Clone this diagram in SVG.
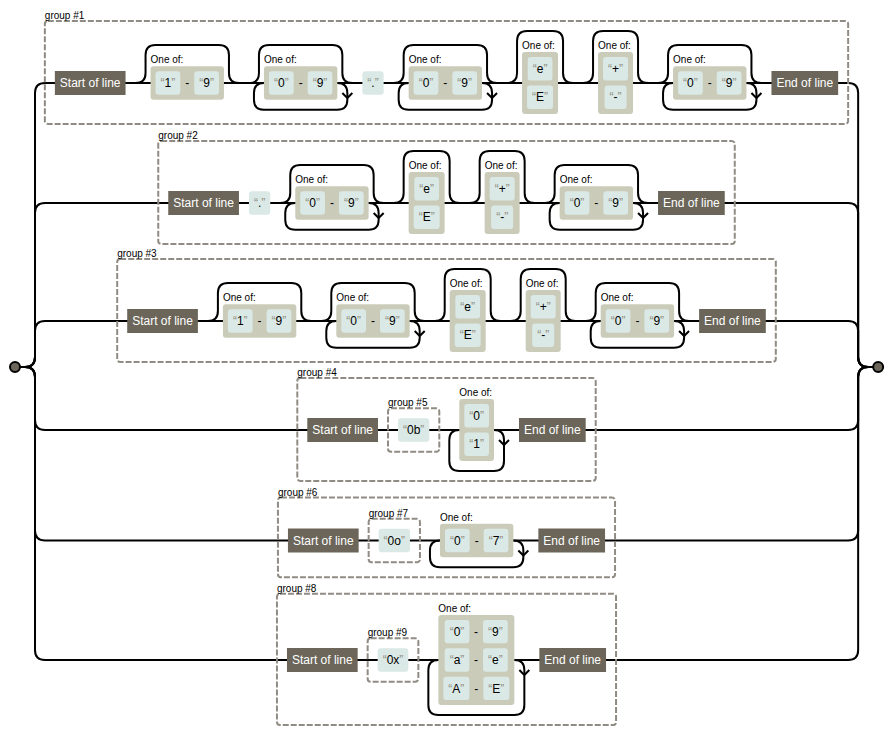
<svg xmlns="http://www.w3.org/2000/svg" width="893" height="734" viewBox="0 0 893 734">
<style>
  text { font-family: "Liberation Sans", Arial, sans-serif; font-size: 12px; fill: #000; }
  .sm { font-size: 10px; }
  .m { text-anchor: middle; }
  .q { fill: #908c83; }
  .an rect { fill: #6b6659; }
  .an text { fill: #fff; text-anchor: middle; }
  .lt { fill: #dae9e5; }
  .cb { fill: #cbcbba; }
  .gb { fill: none; stroke: #908c83; stroke-width: 2; stroke-dasharray: 6,2; }
  #connectors path { fill: none; stroke: #000; stroke-width: 2; }
  circle { fill: #6b6659; stroke: #000; stroke-width: 2; }
</style>
<rect x="0" y="0" width="893" height="734" fill="#fff"/>

<!-- connectors: alternation rails, skip and loop paths -->
<g id="connectors">
  <path d="M15,367H25M868.15,367H878.15"/>
  <!-- branch rails -->
  <path d="M25,367q10,0 10,-10V93q0,-10 10,-10H848.15q10,0 10,10V357q0,10 10,10"/>
  <path d="M25,367q10,0 10,-10V213q0,-10 10,-10H848.15q10,0 10,10V357q0,10 10,10"/>
  <path d="M25,367q10,0 10,-10V331q0,-10 10,-10H848.15q10,0 10,10V357q0,10 10,10"/>
  <path d="M25,367q10,0 10,10V420q0,10 10,10H848.15q10,0 10,-10V377q0,-10 10,-10"/>
  <path d="M25,367q10,0 10,10V530.5q0,10 10,10H848.15q10,0 10,-10V377q0,-10 10,-10"/>
  <path d="M25,367q10,0 10,10V650q0,10 10,10H848.15q10,0 10,-10V377q0,-10 10,-10"/>
  <!-- branch 1 -->
  <path d="M135.55,83q10,0 10,-10V55.1q0,-10 10,-10H218.95q10,0 10,10V73q0,10 10,10"/>
  <path d="M248.95,83q10,0 10,-10V55.1q0,-10 10,-10H332.35q10,0 10,10V73q0,10 10,10"/>
  <path d="M263.95,83q-10,0 -10,10V99.7q0,10 10,10H337.35q10,0 10,-10V93q0,-10 -10,-10"/>
  <path d="M347.35,98l5,-5m-5,5l-5,-5"/>
  <path d="M393.65,83q10,0 10,-10V55.1q0,-10 10,-10H477.05q10,0 10,10V73q0,10 10,10"/>
  <path d="M408.65,83q-10,0 -10,10V99.7q0,10 10,10H482.05q10,0 10,-10V93q0,-10 -10,-10"/>
  <path d="M492.05,98l5,-5m-5,5l-5,-5"/>
  <path d="M507.05,83q10,0 10,-10V40.9q0,-10 10,-10H553.05q10,0 10,10V73q0,10 10,10"/>
  <path d="M583.05,83q10,0 10,-10V40.9q0,-10 10,-10H628.05q10,0 10,10V73q0,10 10,10"/>
  <path d="M658.05,83q10,0 10,-10V55.1q0,-10 10,-10H741.45q10,0 10,10V73q0,10 10,10"/>
  <path d="M673.05,83q-10,0 -10,10V99.7q0,10 10,10H746.45q10,0 10,-10V93q0,-10 -10,-10"/>
  <path d="M756.45,98l5,-5m-5,5l-5,-5"/>
  <!-- branch 2 -->
  <path d="M280.25,203q10,0 10,-10V175.1q0,-10 10,-10H363.65q10,0 10,10V193q0,10 10,10"/>
  <path d="M295.25,203q-10,0 -10,10V219.7q0,10 10,10H368.65q10,0 10,-10V213q0,-10 -10,-10"/>
  <path d="M378.65,218l5,-5m-5,5l-5,-5"/>
  <path d="M393.65,203q10,0 10,-10V160.9q0,-10 10,-10H439.65q10,0 10,10V193q0,10 10,10"/>
  <path d="M469.65,203q10,0 10,-10V160.9q0,-10 10,-10H514.65q10,0 10,10V193q0,10 10,10"/>
  <path d="M544.65,203q10,0 10,-10V175.1q0,-10 10,-10H628.05q10,0 10,10V193q0,10 10,10"/>
  <path d="M559.65,203q-10,0 -10,10V219.7q0,10 10,10H633.05q10,0 10,-10V213q0,-10 -10,-10"/>
  <path d="M643.05,218l5,-5m-5,5l-5,-5"/>
  <!-- branch 3 -->
  <path d="M207.9,321q10,0 10,-10V293.1q0,-10 10,-10H291.3q10,0 10,10V311q0,10 10,10"/>
  <path d="M321.3,321q10,0 10,-10V293.1q0,-10 10,-10H404.7q10,0 10,10V311q0,10 10,10"/>
  <path d="M336.3,321q-10,0 -10,10V337.7q0,10 10,10H409.7q10,0 10,-10V331q0,-10 -10,-10"/>
  <path d="M419.7,336l5,-5m-5,5l-5,-5"/>
  <path d="M434.7,321q10,0 10,-10V278.9q0,-10 10,-10H480.7q10,0 10,10V311q0,10 10,10"/>
  <path d="M510.7,321q10,0 10,-10V278.9q0,-10 10,-10H555.7q10,0 10,10V311q0,10 10,10"/>
  <path d="M585.7,321q10,0 10,-10V293.1q0,-10 10,-10H669.1q10,0 10,10V311q0,10 10,10"/>
  <path d="M600.7,321q-10,0 -10,10V337.7q0,10 10,10H674.1q10,0 10,-10V331q0,-10 -10,-10"/>
  <path d="M684.1,336l5,-5m-5,5l-5,-5"/>
  <!-- branch 4 -->
  <path d="M459.3,430q-10,0 -10,10V460.9q0,10 10,10H494q10,0 10,-10V440q0,-10 -10,-10"/>
  <path d="M504,445l5,-5m-5,5l-5,-5"/>
  <!-- branch 5 -->
  <path d="M439.95,540.5q-10,0 -10,10V557.2q0,10 10,10H513.35q10,0 10,-10V550.5q0,-10 -10,-10"/>
  <path d="M523.35,555.5l5,-5m-5,5l-5,-5"/>
  <!-- branch 6 -->
  <path d="M438.35,660q-10,0 -10,10V705.1q0,10 10,10H514.35q10,0 10,-10V670q0,-10 -10,-10"/>
  <path d="M524.35,675l5,-5m-5,5l-5,-5"/>
</g>

<circle id="begin" cx="15" cy="367" r="5"/>
<circle id="finish" cx="878.15" cy="367" r="5"/>

<!-- ===== group #1 ===== -->
<g id="group1">
  <rect class="gb" x="44.85" y="20.9" width="803.3" height="103" rx="3"/>
  <text class="sm" x="44.85" y="18.9">group #1</text>
</g>
<g id="g1-start" class="an"><rect x="54.85" y="71" width="70.7" height="24"/><text x="90.2" y="87.2">Start of line</text></g>
<g id="g1-set1">
  <text class="sm" x="150.55" y="63.3">One of:</text>
  <rect class="cb" x="150.55" y="66.3" width="73.4" height="33.4" rx="3"/>
  <rect class="lt" x="155.55" y="71.3" width="24.7" height="23.4" rx="3"/><text class="m" x="167.9" y="87.2"><tspan class="q">“</tspan>1<tspan class="q">”</tspan></text>
  <text class="m" x="187.25" y="87.2">-</text>
  <rect class="lt" x="194.25" y="71.3" width="24.7" height="23.4" rx="3"/><text class="m" x="206.6" y="87.2"><tspan class="q">“</tspan>9<tspan class="q">”</tspan></text>
</g>
<g id="g1-set2">
  <text class="sm" x="263.95" y="63.3">One of:</text>
  <rect class="cb" x="263.95" y="66.3" width="73.4" height="33.4" rx="3"/>
  <rect class="lt" x="268.95" y="71.3" width="24.7" height="23.4" rx="3"/><text class="m" x="281.3" y="87.2"><tspan class="q">“</tspan>0<tspan class="q">”</tspan></text>
  <text class="m" x="300.65" y="87.2">-</text>
  <rect class="lt" x="307.65" y="71.3" width="24.7" height="23.4" rx="3"/><text class="m" x="320" y="87.2"><tspan class="q">“</tspan>9<tspan class="q">”</tspan></text>
</g>
<g id="g1-dot">
  <rect class="lt" x="362.35" y="71.3" width="21.3" height="23.4" rx="3"/><text class="m" x="373" y="87.2"><tspan class="q">“</tspan>.<tspan class="q">”</tspan></text>
</g>
<g id="g1-set3">
  <text class="sm" x="408.65" y="63.3">One of:</text>
  <rect class="cb" x="408.65" y="66.3" width="73.4" height="33.4" rx="3"/>
  <rect class="lt" x="413.65" y="71.3" width="24.7" height="23.4" rx="3"/><text class="m" x="426" y="87.2"><tspan class="q">“</tspan>0<tspan class="q">”</tspan></text>
  <text class="m" x="445.35" y="87.2">-</text>
  <rect class="lt" x="452.35" y="71.3" width="24.7" height="23.4" rx="3"/><text class="m" x="464.7" y="87.2"><tspan class="q">“</tspan>9<tspan class="q">”</tspan></text>
</g>
<g id="g1-exp">
  <text class="sm" x="522.05" y="49.1">One of:</text>
  <rect class="cb" x="522.05" y="52.1" width="36" height="61.8" rx="3"/>
  <rect class="lt" x="527.7" y="57.1" width="24.7" height="23.4" rx="3"/><text class="m" x="540.05" y="73"><tspan class="q">“</tspan>e<tspan class="q">”</tspan></text>
  <rect class="lt" x="527.05" y="85.5" width="26" height="23.4" rx="3"/><text class="m" x="540.05" y="101.4"><tspan class="q">“</tspan>E<tspan class="q">”</tspan></text>
</g>
<g id="g1-sign">
  <text class="sm" x="598.05" y="49.1">One of:</text>
  <rect class="cb" x="598.05" y="52.1" width="35" height="61.8" rx="3"/>
  <rect class="lt" x="603.05" y="57.1" width="25" height="23.4" rx="3"/><text class="m" x="615.55" y="73"><tspan class="q">“</tspan>+<tspan class="q">”</tspan></text>
  <rect class="lt" x="604.55" y="85.5" width="22" height="23.4" rx="3"/><text class="m" x="615.55" y="101.4"><tspan class="q">“</tspan>-<tspan class="q">”</tspan></text>
</g>
<g id="g1-set4">
  <text class="sm" x="673.05" y="63.3">One of:</text>
  <rect class="cb" x="673.05" y="66.3" width="73.4" height="33.4" rx="3"/>
  <rect class="lt" x="678.05" y="71.3" width="24.7" height="23.4" rx="3"/><text class="m" x="690.4" y="87.2"><tspan class="q">“</tspan>0<tspan class="q">”</tspan></text>
  <text class="m" x="709.75" y="87.2">-</text>
  <rect class="lt" x="716.75" y="71.3" width="24.7" height="23.4" rx="3"/><text class="m" x="729.1" y="87.2"><tspan class="q">“</tspan>9<tspan class="q">”</tspan></text>
</g>
<g id="g1-end" class="an"><rect x="771.45" y="71" width="66.7" height="24"/><text x="804.8" y="87.2">End of line</text></g>

<!-- ===== group #2 ===== -->
<g id="group2">
  <rect class="gb" x="158.25" y="140.9" width="576.5" height="103" rx="3"/>
  <text class="sm" x="158.25" y="138.9">group #2</text>
</g>
<g id="g2-start" class="an"><rect x="168.25" y="191" width="70.7" height="24"/><text x="203.6" y="207.2">Start of line</text></g>
<g id="g2-dot">
  <rect class="lt" x="248.95" y="191.3" width="21.3" height="23.4" rx="3"/><text class="m" x="259.6" y="207.2"><tspan class="q">“</tspan>.<tspan class="q">”</tspan></text>
</g>
<g id="g2-set1">
  <text class="sm" x="295.25" y="183.3">One of:</text>
  <rect class="cb" x="295.25" y="186.3" width="73.4" height="33.4" rx="3"/>
  <rect class="lt" x="300.25" y="191.3" width="24.7" height="23.4" rx="3"/><text class="m" x="312.6" y="207.2"><tspan class="q">“</tspan>0<tspan class="q">”</tspan></text>
  <text class="m" x="331.95" y="207.2">-</text>
  <rect class="lt" x="338.95" y="191.3" width="24.7" height="23.4" rx="3"/><text class="m" x="351.3" y="207.2"><tspan class="q">“</tspan>9<tspan class="q">”</tspan></text>
</g>
<g id="g2-exp">
  <text class="sm" x="408.65" y="169.1">One of:</text>
  <rect class="cb" x="408.65" y="172.1" width="36" height="61.8" rx="3"/>
  <rect class="lt" x="414.3" y="177.1" width="24.7" height="23.4" rx="3"/><text class="m" x="426.65" y="193"><tspan class="q">“</tspan>e<tspan class="q">”</tspan></text>
  <rect class="lt" x="413.65" y="205.5" width="26" height="23.4" rx="3"/><text class="m" x="426.65" y="221.4"><tspan class="q">“</tspan>E<tspan class="q">”</tspan></text>
</g>
<g id="g2-sign">
  <text class="sm" x="484.65" y="169.1">One of:</text>
  <rect class="cb" x="484.65" y="172.1" width="35" height="61.8" rx="3"/>
  <rect class="lt" x="489.65" y="177.1" width="25" height="23.4" rx="3"/><text class="m" x="502.15" y="193"><tspan class="q">“</tspan>+<tspan class="q">”</tspan></text>
  <rect class="lt" x="491.15" y="205.5" width="22" height="23.4" rx="3"/><text class="m" x="502.15" y="221.4"><tspan class="q">“</tspan>-<tspan class="q">”</tspan></text>
</g>
<g id="g2-set2">
  <text class="sm" x="559.65" y="183.3">One of:</text>
  <rect class="cb" x="559.65" y="186.3" width="73.4" height="33.4" rx="3"/>
  <rect class="lt" x="564.65" y="191.3" width="24.7" height="23.4" rx="3"/><text class="m" x="577" y="207.2"><tspan class="q">“</tspan>0<tspan class="q">”</tspan></text>
  <text class="m" x="596.35" y="207.2">-</text>
  <rect class="lt" x="603.35" y="191.3" width="24.7" height="23.4" rx="3"/><text class="m" x="615.7" y="207.2"><tspan class="q">“</tspan>9<tspan class="q">”</tspan></text>
</g>
<g id="g2-end" class="an"><rect x="658.05" y="191" width="66.7" height="24"/><text x="691.4" y="207.2">End of line</text></g>

<!-- ===== group #3 ===== -->
<g id="group3">
  <rect class="gb" x="117.2" y="258.9" width="658.6" height="103" rx="3"/>
  <text class="sm" x="117.2" y="256.9">group #3</text>
</g>
<g id="g3-start" class="an"><rect x="127.2" y="309" width="70.7" height="24"/><text x="162.55" y="325.2">Start of line</text></g>
<g id="g3-set1">
  <text class="sm" x="222.9" y="301.3">One of:</text>
  <rect class="cb" x="222.9" y="304.3" width="73.4" height="33.4" rx="3"/>
  <rect class="lt" x="227.9" y="309.3" width="24.7" height="23.4" rx="3"/><text class="m" x="240.25" y="325.2"><tspan class="q">“</tspan>1<tspan class="q">”</tspan></text>
  <text class="m" x="259.6" y="325.2">-</text>
  <rect class="lt" x="266.6" y="309.3" width="24.7" height="23.4" rx="3"/><text class="m" x="278.95" y="325.2"><tspan class="q">“</tspan>9<tspan class="q">”</tspan></text>
</g>
<g id="g3-set2">
  <text class="sm" x="336.3" y="301.3">One of:</text>
  <rect class="cb" x="336.3" y="304.3" width="73.4" height="33.4" rx="3"/>
  <rect class="lt" x="341.3" y="309.3" width="24.7" height="23.4" rx="3"/><text class="m" x="353.65" y="325.2"><tspan class="q">“</tspan>0<tspan class="q">”</tspan></text>
  <text class="m" x="373" y="325.2">-</text>
  <rect class="lt" x="380" y="309.3" width="24.7" height="23.4" rx="3"/><text class="m" x="392.35" y="325.2"><tspan class="q">“</tspan>9<tspan class="q">”</tspan></text>
</g>
<g id="g3-exp">
  <text class="sm" x="449.7" y="287.1">One of:</text>
  <rect class="cb" x="449.7" y="290.1" width="36" height="61.8" rx="3"/>
  <rect class="lt" x="455.35" y="295.1" width="24.7" height="23.4" rx="3"/><text class="m" x="467.7" y="311"><tspan class="q">“</tspan>e<tspan class="q">”</tspan></text>
  <rect class="lt" x="454.7" y="323.5" width="26" height="23.4" rx="3"/><text class="m" x="467.7" y="339.4"><tspan class="q">“</tspan>E<tspan class="q">”</tspan></text>
</g>
<g id="g3-sign">
  <text class="sm" x="525.7" y="287.1">One of:</text>
  <rect class="cb" x="525.7" y="290.1" width="35" height="61.8" rx="3"/>
  <rect class="lt" x="530.7" y="295.1" width="25" height="23.4" rx="3"/><text class="m" x="543.2" y="311"><tspan class="q">“</tspan>+<tspan class="q">”</tspan></text>
  <rect class="lt" x="532.2" y="323.5" width="22" height="23.4" rx="3"/><text class="m" x="543.2" y="339.4"><tspan class="q">“</tspan>-<tspan class="q">”</tspan></text>
</g>
<g id="g3-set3">
  <text class="sm" x="600.7" y="301.3">One of:</text>
  <rect class="cb" x="600.7" y="304.3" width="73.4" height="33.4" rx="3"/>
  <rect class="lt" x="605.7" y="309.3" width="24.7" height="23.4" rx="3"/><text class="m" x="618.05" y="325.2"><tspan class="q">“</tspan>0<tspan class="q">”</tspan></text>
  <text class="m" x="637.4" y="325.2">-</text>
  <rect class="lt" x="644.4" y="309.3" width="24.7" height="23.4" rx="3"/><text class="m" x="656.75" y="325.2"><tspan class="q">“</tspan>9<tspan class="q">”</tspan></text>
</g>
<g id="g3-end" class="an"><rect x="699.1" y="309" width="66.7" height="24"/><text x="732.45" y="325.2">End of line</text></g>

<!-- ===== group #4 ===== -->
<g id="group4">
  <rect class="gb" x="297.3" y="377.9" width="298.4" height="103" rx="3"/>
  <text class="sm" x="297.3" y="375.9">group #4</text>
</g>
<g id="g4-start" class="an"><rect x="307.3" y="418" width="70.7" height="24"/><text x="342.65" y="434.2">Start of line</text></g>
<g id="group5">
  <rect class="gb" x="388" y="408.3" width="51.3" height="43.4" rx="3"/>
  <text class="sm" x="388" y="406.3">group #5</text>
  <rect class="lt" x="398" y="418.3" width="31.3" height="23.4" rx="3"/><text class="m" x="413.65" y="434.2"><tspan class="q">“</tspan>0b<tspan class="q">”</tspan></text>
</g>
<g id="g4-bin">
  <text class="sm" x="459.3" y="396.1">One of:</text>
  <rect class="cb" x="459.3" y="399.1" width="34.7" height="61.8" rx="3"/>
  <rect class="lt" x="464.3" y="404.1" width="24.7" height="23.4" rx="3"/><text class="m" x="476.65" y="420"><tspan class="q">“</tspan>0<tspan class="q">”</tspan></text>
  <rect class="lt" x="464.3" y="432.5" width="24.7" height="23.4" rx="3"/><text class="m" x="476.65" y="448.4"><tspan class="q">“</tspan>1<tspan class="q">”</tspan></text>
</g>
<g id="g4-end" class="an"><rect x="519" y="418" width="66.7" height="24"/><text x="552.35" y="434.2">End of line</text></g>

<!-- ===== group #6 ===== -->
<g id="group6">
  <rect class="gb" x="277.95" y="497.6" width="337.1" height="79.6" rx="3"/>
  <text class="sm" x="277.95" y="495.6">group #6</text>
</g>
<g id="g6-start" class="an"><rect x="287.95" y="528.5" width="70.7" height="24"/><text x="323.3" y="544.7">Start of line</text></g>
<g id="group7">
  <rect class="gb" x="368.65" y="518.8" width="51.3" height="43.4" rx="3"/>
  <text class="sm" x="368.65" y="516.8">group #7</text>
  <rect class="lt" x="378.65" y="528.8" width="31.3" height="23.4" rx="3"/><text class="m" x="394.3" y="544.7"><tspan class="q">“</tspan>0o<tspan class="q">”</tspan></text>
</g>
<g id="g6-oct">
  <text class="sm" x="439.95" y="520.8">One of:</text>
  <rect class="cb" x="439.95" y="523.8" width="73.4" height="33.4" rx="3"/>
  <rect class="lt" x="444.95" y="528.8" width="24.7" height="23.4" rx="3"/><text class="m" x="457.3" y="544.7"><tspan class="q">“</tspan>0<tspan class="q">”</tspan></text>
  <text class="m" x="476.65" y="544.7">-</text>
  <rect class="lt" x="483.65" y="528.8" width="24.7" height="23.4" rx="3"/><text class="m" x="496" y="544.7"><tspan class="q">“</tspan>7<tspan class="q">”</tspan></text>
</g>
<g id="g6-end" class="an"><rect x="538.35" y="528.5" width="66.7" height="24"/><text x="571.7" y="544.7">End of line</text></g>

<!-- ===== group #8 ===== -->
<g id="group8">
  <rect class="gb" x="276.95" y="593.7" width="339.1" height="131.4" rx="3"/>
  <text class="sm" x="276.95" y="591.7">group #8</text>
</g>
<g id="g8-start" class="an"><rect x="286.95" y="648" width="70.7" height="24"/><text x="322.3" y="664.2">Start of line</text></g>
<g id="group9">
  <rect class="gb" x="367.65" y="638.3" width="50.7" height="43.4" rx="3"/>
  <text class="sm" x="367.65" y="636.3">group #9</text>
  <rect class="lt" x="377.65" y="648.3" width="30.7" height="23.4" rx="3"/><text class="m" x="393" y="664.2"><tspan class="q">“</tspan>0x<tspan class="q">”</tspan></text>
</g>
<g id="g8-hex">
  <text class="sm" x="438.35" y="611.9">One of:</text>
  <rect class="cb" x="438.35" y="614.9" width="76" height="90.2" rx="3"/>
  <rect class="lt" x="444.65" y="619.9" width="24.7" height="23.4" rx="3"/><text class="m" x="457" y="635.8"><tspan class="q">“</tspan>0<tspan class="q">”</tspan></text>
  <text class="m" x="476.05" y="635.8">-</text>
  <rect class="lt" x="483.05" y="619.9" width="24.7" height="23.4" rx="3"/><text class="m" x="495.4" y="635.8"><tspan class="q">“</tspan>9<tspan class="q">”</tspan></text>
  <rect class="lt" x="444.65" y="648.3" width="24.7" height="23.4" rx="3"/><text class="m" x="457" y="664.2"><tspan class="q">“</tspan>a<tspan class="q">”</tspan></text>
  <text class="m" x="476.05" y="664.2">-</text>
  <rect class="lt" x="483.05" y="648.3" width="24.7" height="23.4" rx="3"/><text class="m" x="495.4" y="664.2"><tspan class="q">“</tspan>e<tspan class="q">”</tspan></text>
  <rect class="lt" x="443.35" y="676.7" width="26" height="23.4" rx="3"/><text class="m" x="456.35" y="692.6"><tspan class="q">“</tspan>A<tspan class="q">”</tspan></text>
  <text class="m" x="476.35" y="692.6">-</text>
  <rect class="lt" x="483.35" y="676.7" width="26" height="23.4" rx="3"/><text class="m" x="496.35" y="692.6"><tspan class="q">“</tspan>E<tspan class="q">”</tspan></text>
</g>
<g id="g8-end" class="an"><rect x="539.35" y="648" width="66.7" height="24"/><text x="572.7" y="664.2">End of line</text></g>
</svg>
